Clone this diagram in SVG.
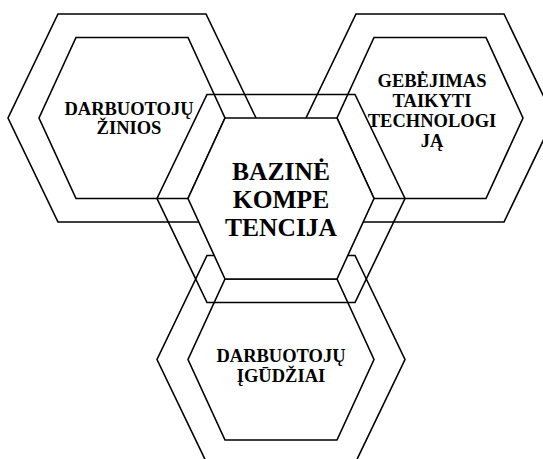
<svg xmlns="http://www.w3.org/2000/svg" width="543" height="459" viewBox="0 0 543 459">
<style>
.hex{fill:none;stroke:#000;stroke-width:1.6;stroke-linejoin:miter}
.core{fill:#fff;stroke:#000;stroke-width:1.6}
.t{font-family:"Liberation Serif","Times New Roman",serif;font-weight:bold;text-anchor:middle;fill:#000}
.s{font-size:18.5px}
.b{font-size:25.5px}
</style>
<rect width="543" height="459" fill="#fff"/>
<g id="node-ziniu">
<polygon class="hex" points="58,14 206,14 256,118 206,222 58,222 8,118"/>
<polygon class="hex" points="76,37.5 188,37.5 225,118 188,198.5 76,198.5 39,118"/>
<text class="t s" x="129" y="115">DARBUOTOJŲ</text>
<text class="t s" x="129" y="134">ŽINIOS</text>
</g>
<g id="node-technologijos">
<polygon class="hex" points="356,14 504,14 554,118 504,222 356,222 306,118"/>
<polygon class="hex" points="374,37.5 486,37.5 523,118 486,198.5 374,198.5 337,118"/>
<text class="t s" x="432" y="87">GEBĖJIMAS</text>
<text class="t s" x="432" y="107">TAIKYTI</text>
<text class="t s" x="432" y="127">TECHNOLOGI</text>
<text class="t s" x="432" y="147">JĄ</text>
</g>
<g id="node-igudziai">
<polygon class="hex" points="207,255.5 355,255.5 405,359.5 355,463.5 207,463.5 157,359.5"/>
<polygon class="hex" points="225,279 337,279 374,359.5 337,440 225,440 188,359.5"/>
<text class="t s" x="281" y="362">DARBUOTOJŲ</text>
<text class="t s" x="281" y="382">ĮGŪDŽIAI</text>
</g>
<g id="node-bazine">
<polygon class="hex" points="207,94.5 355,94.5 405,198.5 355,302.5 207,302.5 157,198.5"/>
<polygon class="core" points="225,118 337,118 374,198.5 337,279 225,279 188,198.5"/>
<text class="t b" x="281" y="180">BAZINĖ</text>
<text class="t b" x="281" y="208">KOMPE</text>
<text class="t b" x="281" y="236">TENCIJA</text>
</g>
</svg>
